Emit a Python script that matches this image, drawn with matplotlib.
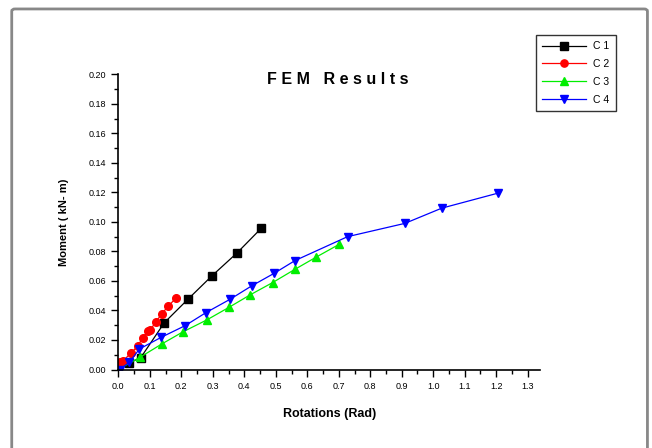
import matplotlib.pyplot as plt
from matplotlib.patches import FancyBboxPatch
from matplotlib.ticker import MultipleLocator, FixedLocator

plt.rcParams['font.family'] = ['Liberation Sans', 'DejaVu Sans']

# C1
c1_x = [0.035, 0.071, 0.146, 0.221, 0.297, 0.378, 0.454]
c1_y = [0.0046, 0.008, 0.0317, 0.0476, 0.0634, 0.0792, 0.0957]
# C2
c2_x = [0.005, 0.015, 0.039, 0.061, 0.077, 0.094, 0.101, 0.12, 0.138, 0.159, 0.182]
c2_y = [0.005, 0.0058, 0.011, 0.0157, 0.0214, 0.026, 0.0268, 0.0324, 0.0378, 0.043, 0.0482]
# C3
c3_x = [0.0, 0.069, 0.138, 0.206, 0.281, 0.352, 0.418, 0.49, 0.561, 0.628, 0.702]
c3_y = [0.0, 0.0083, 0.0173, 0.0256, 0.0336, 0.0422, 0.0505, 0.0589, 0.0679, 0.0761, 0.0849]
# C4
c4_x = [0.005, 0.035, 0.067, 0.136, 0.212, 0.278, 0.355, 0.423, 0.495, 0.561, 0.728, 0.91, 1.027, 1.206]
c4_y = [0.0, 0.0049, 0.0139, 0.0218, 0.0297, 0.0385, 0.0476, 0.0566, 0.0652, 0.0738, 0.090, 0.099, 0.1093, 0.1195]

x_ticks = [i / 10 for i in range(14)]
y_ticks = [i / 50 for i in range(11)]

fig = plt.figure(figsize=(6.52, 4.48), dpi=100)
ax = fig.add_axes([0.1815, 0.1752, 0.6467, 0.659])

ax.plot(c1_x, c1_y, color='black', lw=0.9, marker='s', ms=5.5, label='C 1')
ax.plot(c2_x, c2_y, color='red', lw=0.9, marker='o', ms=5.5, label='C 2')
ax.plot(c3_x, c3_y, color='#00ee00', lw=0.9, marker='^', ms=5.5, label='C 3')
ax.plot(c4_x, c4_y, color='blue', lw=0.9, marker='v', ms=5.5, label='C 4')

ax.set_xlim(0, 1.339)
ax.set_ylim(0, 0.20)
ax.xaxis.set_major_locator(FixedLocator(x_ticks))
ax.yaxis.set_major_locator(FixedLocator(y_ticks))
ax.xaxis.set_minor_locator(MultipleLocator(0.05))
ax.yaxis.set_minor_locator(MultipleLocator(0.01))
ax.set_xticklabels(['%.1f' % v for v in x_ticks], fontsize=6.5)
ax.set_yticklabels(['%.2f' % v for v in y_ticks], fontsize=6.5)
ax.tick_params(which='major', direction='out', length=5, width=1, pad=4)
ax.tick_params(which='minor', direction='out', length=3, width=1)
ax.spines['top'].set_visible(False)
ax.spines['right'].set_visible(False)
ax.spines['left'].set_linewidth(1.2)
ax.spines['bottom'].set_linewidth(1.2)

ax.set_xlabel('Rotations (Rad)', fontsize=9, fontweight='bold', labelpad=12)
ax.set_ylabel('Moment ( kN- m)', fontsize=8, fontweight='bold', labelpad=14)
fig.text(0.518, 0.823, 'F E M   R e s u l t s', fontsize=11.5, fontweight='bold',
         ha='center', va='center')

leg = fig.legend(loc='upper left', bbox_to_anchor=(0.822, 0.922), fontsize=7.5,
                 frameon=True, fancybox=False, edgecolor='black', handlelength=4.2,
                 numpoints=1, borderpad=0.6, labelspacing=0.75, handletextpad=0.7,
                 markerscale=0.95, borderaxespad=0)
leg.get_frame().set_linewidth(1)

border = FancyBboxPatch((0.018, -0.2), 0.975, 1.18, boxstyle='round,pad=0,rounding_size=0.005',
                        transform=fig.transFigure, fill=False, edgecolor='#888888', lw=2)
fig.patches.append(border)

fig.savefig('out.png', dpi=100)
